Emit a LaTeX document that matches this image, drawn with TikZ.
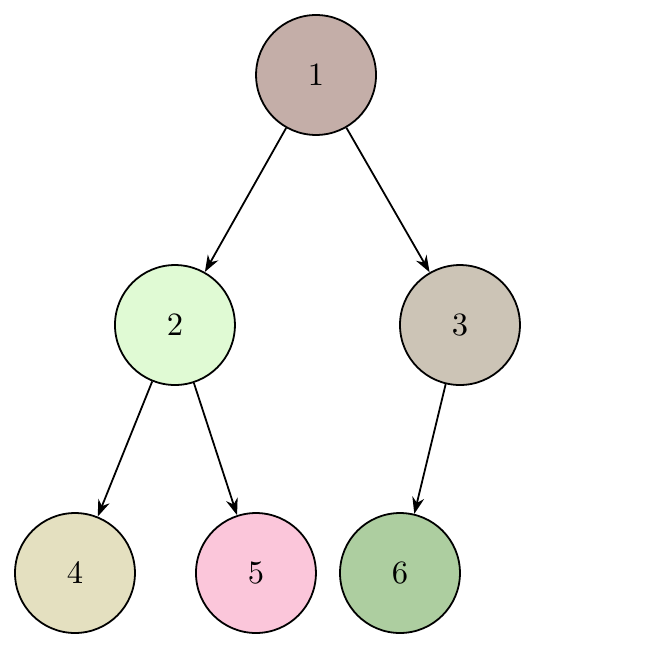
\documentclass[tikz,border=0pt]{standalone}
\usepackage{amsmath}
\usetikzlibrary{arrows.meta}
\definecolor{cone}{HTML}{C4AEA8}
\definecolor{ctwo}{HTML}{E0FAD4}
\definecolor{cthree}{HTML}{CCC4B6}
\definecolor{cfour}{HTML}{E4E0C0}
\definecolor{cfive}{HTML}{FBC6DA}
\definecolor{csix}{HTML}{ADCEA0}
\tikzset{
  >={Stealth[length=1.8mm,width=1.3mm]},
  tnode/.style={circle,draw=black,line width=0.55pt,minimum size=12.96mm,
    inner sep=0pt},
  tedge/.style={->,line width=0.55pt},
}
\begin{document}
\begin{tikzpicture}
  \useasboundingbox (0,0) rectangle (7,7);
  \node[tnode,fill=cone]   (n1) at (3.414,6.190) {$1$};
  \node[tnode,fill=ctwo]   (n2) at (1.890,3.489) {$2$};
  \node[tnode,fill=cthree] (n3) at (4.969,3.489) {$3$};
  \node[tnode,fill=cfour]  (n4) at (0.810,0.810) {$4$};
  \node[tnode,fill=cfive]  (n5) at (2.765,0.810) {$5$};
  \node[tnode,fill=csix]   (n6) at (4.321,0.810) {$6$};
  \foreach \a/\b in {n1/n2,n1/n3,n2/n4,n2/n5,n3/n6}
    \draw[tedge] (\a) -- (\b);
\end{tikzpicture}
\end{document}
